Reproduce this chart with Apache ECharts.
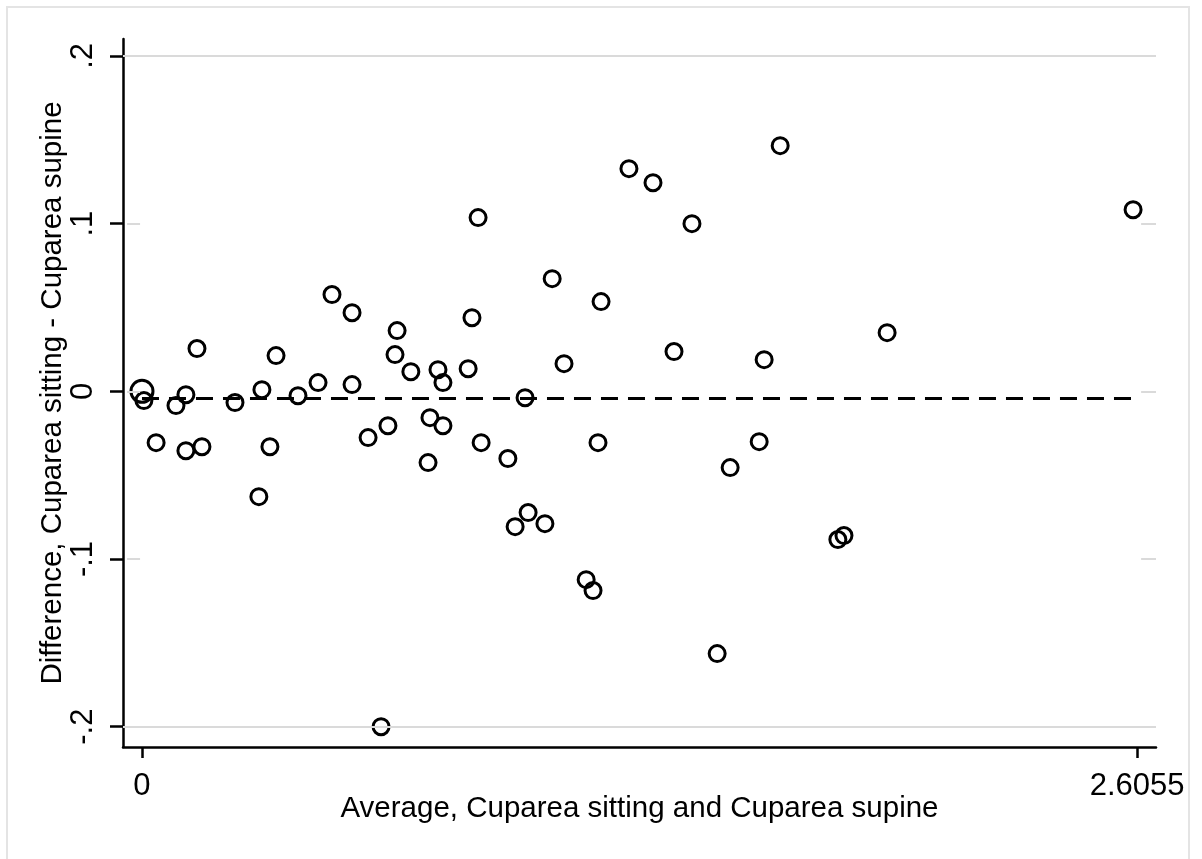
<!DOCTYPE html>
<html>
<head>
<meta charset="utf-8">
<title>Bland-Altman: Cuparea sitting vs supine</title>
<script src="https://cdn.jsdelivr.net/npm/echarts@6/dist/echarts.min.js"></script>
<style>
  html, body { margin: 0; padding: 0; background: #fff; }
  #chart { width: 1202px; height: 859px; }
</style>
</head>
<body>
<div id="chart"></div>
<script>
// average of the two measurements (x)
var avgVals = [
  0.005, 0.037, 0.089, 0.115, 0.115, 0.144, 0.157, 0.2435, 0.306, 0.314,
  0.335, 0.351, 0.4085, 0.461, 0.4975, 0.550, 0.550, 0.592, 0.626, 0.644,
  0.6625, 0.668, 0.704, 0.749, 0.754, 0.775, 0.788, 0.788, 0.854, 0.864,
  0.880, 0.888, 0.958, 0.977, 1.003, 1.011, 1.055, 1.074, 1.105, 1.163,
  1.181, 1.194, 1.202, 1.275, 1.338, 1.393, 1.440, 1.506, 1.540, 1.616,
  1.629, 1.671, 1.822, 1.838, 1.951, 2.595
];
// difference sitting - supine (y)
var diffVals = [
  -0.0055, -0.0306, -0.0085, -0.002, -0.0354, 0.0255, -0.033, -0.0067, -0.0628, 0.001,
  -0.033, 0.0213, -0.0026, 0.0052, 0.0577, 0.0469, 0.004, -0.0276, -0.2, -0.0205,
  0.0219, 0.0362, 0.0117, -0.0425, -0.0157, 0.0129, 0.0052, -0.0205, 0.0135, 0.0439,
  0.1036, -0.0306, -0.0401, -0.0807, -0.0038, -0.0723, -0.0789, 0.0672, 0.0165, -0.1123,
  -0.1188, -0.0306, 0.0535, 0.1328, 0.1244, 0.0237, 0.1, -0.1564, -0.0455, -0.030,
  0.0189, 0.1465, -0.0884, -0.086, 0.035, 0.1083
];
// point drawn with the larger marker at the origin
var heavyPoint = [0, 0];
var meanDiff = -0.004;

var xTicks = [0, 2.6055];
var yTicks = [-0.2, -0.1, 0, 0.1, 0.2];
var xMin = -0.0497, xMax = 2.655;
var yMin = -0.2121, yMax = 0.2101;

var font = '"Liberation Sans", Arial, Helvetica, sans-serif';

function fmtY(v) {
  if (Math.abs(v) < 1e-9) return '0';
  return String(Math.round(v * 10) / 10).replace('0.', '.');
}

var points = avgVals.map(function (x, i) { return [x, diffVals[i]]; });

// grey reference lines: full at the outer ticks, short stubs at the inner ones
var gridLines = [];
yTicks.forEach(function (t) {
  if (Math.abs(Math.abs(t) - 0.2) < 1e-9) {
    gridLines.push([{ coord: [xMin, t] }, { coord: [xMax, t] }]);
  } else {
    gridLines.push([{ coord: [-0.039, t] }, { coord: [-0.005, t] }]);
    gridLines.push([{ coord: [2.616, t] }, { coord: [xMax, t] }]);
  }
});

var chart = echarts.init(document.getElementById('chart'));
chart.setOption({
  animation: false,
  backgroundColor: '#fff',
  textStyle: { fontFamily: font },
  graphic: [{
    type: 'rect',
    shape: { x: 7, y: 7, width: 1182, height: 880 },
    style: { fill: 'none', stroke: '#e4e4e4', lineWidth: 2 },
    silent: true
  }],
  grid: { left: 123, right: 46, top: 39, bottom: 112 },
  xAxis: {
    type: 'value',
    min: xMin,
    max: xMax,
    name: 'Average, Cuparea sitting and Cuparea supine',
    nameLocation: 'middle',
    nameGap: 47,
    nameMoveOverlap: false,
    nameTextStyle: { fontSize: 29.5, color: '#000', fontFamily: font, verticalAlign: 'top' },
    axisLine: { show: true, onZero: false, lineStyle: { color: '#000', width: 2.5 } },
    axisTick: { show: true, length: 11, lineStyle: { color: '#000', width: 2.5 }, customValues: xTicks },
    axisLabel: {
      fontSize: 31, color: '#000', margin: 24, fontFamily: font,
      customValues: xTicks,
      formatter: function (v) { return Math.abs(v) < 1e-9 ? '0' : String(v); }
    },
    splitLine: { show: false }
  },
  yAxis: {
    type: 'value',
    min: yMin,
    max: yMax,
    name: 'Difference, Cuparea sitting - Cuparea supine',
    nameLocation: 'middle',
    nameRotate: 90,
    nameGap: 55,
    nameMoveOverlap: false,
    nameTextStyle: { fontSize: 29.5, color: '#000', fontFamily: font },
    axisLine: { show: true, onZero: false, lineStyle: { color: '#000', width: 2.5 } },
    axisTick: { show: true, length: 13, lineStyle: { color: '#000', width: 2.5 }, customValues: yTicks },
    axisLabel: {
      fontSize: 31, color: '#000', margin: 24, rotate: 90, fontFamily: font,
      customValues: yTicks,
      formatter: fmtY
    },
    splitLine: { show: false }
  },
  series: [
    {
      name: 'grid',
      type: 'line',
      data: [],
      silent: true,
      z: 1,
      markLine: {
        silent: true,
        symbol: ['none', 'none'],
        label: { show: false },
        lineStyle: { color: '#dadada', width: 2, type: 'solid' },
        data: gridLines
      }
    },
    {
      name: 'mean',
      type: 'line',
      data: [],
      silent: true,
      z: 3,
      markLine: {
        silent: true,
        symbol: ['none', 'none'],
        label: { show: false },
        lineStyle: { color: '#000', width: 3, type: [17, 10] },
        data: [[{ coord: [0, meanDiff] }, { coord: [avgVals[avgVals.length - 1], meanDiff] }]]
      }
    },
    {
      name: 'diff',
      type: 'scatter',
      data: points,
      symbol: 'circle',
      symbolSize: 16,
      z: 4,
      itemStyle: { color: 'rgba(0,0,0,0)', borderColor: '#000', borderWidth: 3, opacity: 1 }
    },
    {
      name: 'heavy',
      type: 'scatter',
      data: [heavyPoint],
      symbol: 'circle',
      symbolSize: 22,
      z: 4,
      itemStyle: { color: 'rgba(0,0,0,0)', borderColor: '#000', borderWidth: 3, opacity: 1 }
    }
  ]
});
</script>
</body>
</html>
